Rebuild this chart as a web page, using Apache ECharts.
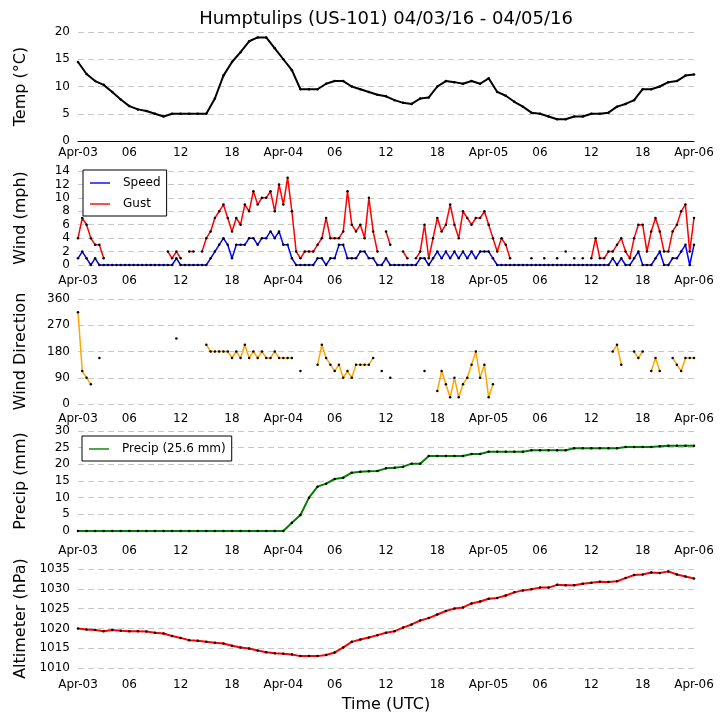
<!DOCTYPE html>
<html>
<head>
<meta charset="utf-8">
<script src="https://cdn.jsdelivr.net/npm/echarts@6/dist/echarts.min.js"></script>
<style>
html,body{margin:0;padding:0;background:#fff;}
#c{width:726px;height:725px;}
</style>
</head>
<body>
<div id="c"></div>
<script>
// ---- tick labels (every 6 h from 2016-04-03 00 UTC) ----
const xTickLabels = ['Apr-03','06','12','18','Apr-04','06','12','18','Apr-05','06','12','18','Apr-06'];

// ---- hourly series (hour 0 .. 72) ----
const tempC = [14.5,12.3,11.0,10.3,9.0,7.6,6.4,5.8,5.5,5.0,
  4.5,5.0,5.0,5.0,5.0,5.0,7.8,12.0,14.5,16.3,
  18.3,19.0,19.0,17.0,15.0,13.0,9.5,9.5,9.5,10.5,
  11.0,11.0,10.0,9.5,9.0,8.5,8.2,7.5,7.0,6.8,
  7.8,8.0,10.0,11.0,10.8,10.5,11.0,10.5,11.5,9.0,
  8.3,7.2,6.3,5.2,5.0,4.5,4.0,4.0,4.5,4.5,
  5.0,5.0,5.2,6.3,6.8,7.5,9.5,9.5,10.0,10.8,
  11.0,12.0,12.2];

const precipMm = [0,0,0,0,0,0,0,0,0,0,
  0,0,0,0,0,0,0,0,0,0,
  0,0,0,0,0,2.5,4.8,10,13.3,14.2,
  15.6,16,17.5,17.8,17.9,18,18.8,19,19.3,20.2,
  20.2,22.5,22.5,22.5,22.5,22.5,23.1,23.1,23.8,23.8,
  23.8,23.8,23.8,24.2,24.2,24.2,24.2,24.2,24.8,24.8,
  24.8,24.8,24.8,24.8,25.2,25.2,25.2,25.2,25.4,25.6,
  25.6,25.6,25.6];

const altimeterHpa = [1020.0,1019.7,1019.6,1019.3,1019.6,1019.4,1019.3,1019.3,1019.2,1018.9,
  1018.7,1018.1,1017.6,1017.0,1016.9,1016.6,1016.4,1016.2,1015.6,1015.2,
  1014.9,1014.4,1014.0,1013.7,1013.6,1013.4,1013.0,1013.0,1013.0,1013.3,
  1013.9,1015.2,1016.6,1017.2,1017.7,1018.3,1018.9,1019.3,1020.2,1021.0,
  1022.0,1022.6,1023.5,1024.4,1025.0,1025.3,1026.3,1026.8,1027.5,1027.7,
  1028.3,1029.1,1029.6,1029.9,1030.3,1030.3,1031.0,1030.9,1030.9,1031.3,
  1031.5,1031.8,1031.7,1031.9,1032.7,1033.5,1033.6,1034.1,1034.0,1034.4,
  1033.6,1033.1,1032.6];

// ---- half-hourly series (hour 0, 0.5, ... 72) ----
const windSpeed = [1,2,1,0,1,0,0,0,0,0,
  0,0,0,0,0,0,0,0,0,0,
  0,0,0,1,0,0,0,0,0,0,
  0,1,2,3,4,3,1,3,3,3,
  4,4,3,4,4,5,4,5,3,3,
  1,0,0,0,0,0,1,1,0,1,
  1,3,3,1,1,1,2,2,1,1,
  0,0,1,0,0,0,0,0,0,0,
  1,1,0,1,2,1,2,1,2,1,
  2,1,2,1,2,2,2,1,0,0,
  0,0,0,0,0,0,0,0,0,0,
  0,0,0,0,0,0,0,0,0,0,
  0,0,0,0,0,1,0,1,0,0,
  1,2,0,0,0,1,2,0,0,1,
  1,2,3,0,3];

const windGust = [4,7,6,4,3,3,1,null,null,null,
  null,null,null,null,null,null,null,null,null,null,
  null,2,1,2,1,null,2,2,null,2,
  4,5,7,8,9,7,5,7,6,9,
  8,11,9,10,10,11,8,12,9,13,
  8,2,1,2,2,2,3,4,7,4,
  4,4,5,11,6,5,6,4,10,5,
  2,null,5,3,null,null,2,1,null,1,
  2,6,1,4,7,5,6,9,6,4,
  8,7,6,7,7,8,6,4,2,4,
  3,1,null,null,null,null,1,null,null,1,
  null,null,1,null,2,null,1,null,1,null,
  1,4,1,1,2,2,3,4,2,1,
  4,6,6,2,5,7,5,2,2,5,
  6,8,9,2,7];

const windDir = [315,113,90,68,null,158,null,null,null,null,
  null,null,null,null,null,null,null,null,null,null,
  null,null,null,225,null,null,null,null,null,null,
  203,180,180,180,180,180,158,180,158,203,
  158,180,158,180,158,158,180,158,158,158,
  158,null,113,null,null,null,135,203,158,135,
  113,135,90,113,90,135,135,135,135,158,
  null,113,null,90,null,null,null,null,null,null,
  null,113,null,null,45,113,68,23,90,23,
  68,90,135,180,90,135,23,68,null,null,
  null,null,null,null,null,null,null,null,null,null,
  null,null,null,null,null,null,null,null,null,null,
  null,null,null,null,null,180,203,135,null,null,
  180,158,180,null,113,158,113,null,null,158,
  135,113,158,158,158];

const titleText = 'Humptulips (US-101) 04/03/16 - 04/05/16';
const yTitles = ['Temp (°C)','Wind (mph)','Wind Direction','Precip (mm)','Altimeter (hPa)'];
const precipName = 'Precip (25.6 mm)';

// ---- layout ----
const FONT = 'DejaVu Sans';
const L = 78, W = 616;
const panels = [
  {top:32,  h:109, min:0,    max:20,   step:5,  lab:6},
  {top:171, h:94,  min:0,    max:14,   step:2,  lab:10},
  {top:299, h:105, min:0,    max:360,  step:90, lab:9},
  {top:431, h:100, min:0,    max:30,   step:5,  lab:14},
  {top:569, h:99,  min:1010, max:1035, step:5,  lab:11}
];

const grids = panels.map(p => ({left:L, width:W, top:p.top, height:p.h}));
const xAxes = panels.map((p,i) => ({
  type:'value', gridIndex:i, min:0, max:72, interval:6,
  axisLine:{show:i===0, onZero:false, lineStyle:{color:'#000', width:1}},
  axisTick:{show:false}, splitLine:{show:false},
  axisLabel:{margin:p.lab, fontSize:12, color:'#000', fontFamily:FONT,
    formatter: v => xTickLabels[Math.round(v/6)]}
}));
const yAxes = panels.map((p,i) => ({
  type:'value', gridIndex:i, min:p.min, max:p.max, interval:p.step,
  axisLine:{show:false}, axisTick:{show:false},
  splitLine:{show:true, lineStyle:{color:'#c8c8c8', width:1, type:[6,4]}},
  axisLabel:{margin:8, fontSize:12, color:'#000', fontFamily:FONT, formatter: v => String(v)}
}));

const hourly = arr => arr.map((v,i) => [i, v]);
const halfHourly = arr => arr.map((v,i) => [i/2, v]);
function lineSeries(name, idx, data, color, width) {
  return {name, type:'line', xAxisIndex:idx, yAxisIndex:idx, data,
    symbol:'circle', symbolSize:2.5, showSymbol:true, showAllSymbol:true,
    itemStyle:{color:'#000'}, lineStyle:{color, width},
    connectNulls:false, clip:false, animation:false};
}

const series = [
  lineSeries('Temp', 0, hourly(tempC), '#000', 2),
  lineSeries('Speed', 1, halfHourly(windSpeed), '#0000ff', 1.5),
  lineSeries('Gust', 1, halfHourly(windGust), '#ff0000', 1.5),
  lineSeries('Direction', 2, halfHourly(windDir), '#ffa500', 1.5),
  lineSeries(precipName, 3, hourly(precipMm), '#008000', 2),
  lineSeries('Altimeter', 4, hourly(altimeterHpa), '#ff0000', 2)
];

// legend icon: a thin horizontal line inside a 20x10 box
const lineIcon = 'path://M0,0 M20,10 M0,4.3 H20 V5.7 H0 Z';
const legendBase = {orient:'vertical', backgroundColor:'#fff', borderColor:'#000', borderWidth:1,
  borderRadius:0, padding:[7,6,6,7], itemWidth:20, itemHeight:10, itemGap:9, selectedMode:false,
  textStyle:{fontSize:12, fontFamily:FONT, color:'#000', padding:[0,0,0,8]}};

const graphics = [
  {type:'text', x:L+W/2, y:19, style:{text:titleText, fontSize:18, fontFamily:FONT, fill:'#000', textAlign:'center', textVerticalAlign:'middle'}},
  {type:'text', x:L+W/2, y:705, style:{text:'Time (UTC)', fontSize:16, fontFamily:FONT, fill:'#000', textAlign:'center', textVerticalAlign:'middle'}}
].concat(panels.map((p,i) => ({type:'text', x:21, y:p.top+p.h/2, rotation:Math.PI/2,
  style:{text:yTitles[i], fontSize:16, fontFamily:FONT, fill:'#000', textAlign:'center', textVerticalAlign:'middle'}})));

const chart = echarts.init(document.getElementById('c'), null, {renderer:'canvas'});
chart.setOption({
  animation:false,
  backgroundColor:'#fff',
  grid:grids, xAxis:xAxes, yAxis:yAxes, series,
  legend:[
    Object.assign({}, legendBase, {left:83, top:170, data:[
      {name:'Speed', icon:lineIcon, itemStyle:{color:'#0000ff'}},
      {name:'Gust', icon:lineIcon, itemStyle:{color:'#ff0000'}}
    ]}),
    Object.assign({}, legendBase, {left:82, top:436, data:[
      {name:precipName, icon:lineIcon, itemStyle:{color:'#008000'}}
    ]})
  ],
  graphic:graphics
});
</script>
</body>
</html>
